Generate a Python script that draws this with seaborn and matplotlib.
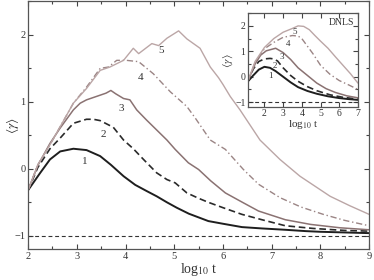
import numpy as np
import pandas as pd
import matplotlib
matplotlib.use("Agg")
import matplotlib.pyplot as plt
import seaborn as sns
from matplotlib.ticker import MultipleLocator

# ---- main panel data (log10 t, <gamma>) ----
x1 = [2.0, 2.25, 2.45, 2.66, 2.93, 3.2, 3.48, 3.7, 3.96, 4.2, 4.43, 4.64, 4.85, 5.05, 5.3, 5.7, 6.0, 6.39, 6.8, 7.28, 7.7, 8.0, 8.5, 9.0]
y1 = [-0.32, -0.06, 0.14, 0.26, 0.30, 0.28, 0.19, 0.06, -0.11, -0.24, -0.33, -0.41, -0.50, -0.58, -0.67, -0.78, -0.82, -0.87, -0.89, -0.91, -0.93, -0.94, -0.95, -0.96]

x2 = [2.0, 2.2, 2.45, 2.66, 2.93, 3.2, 3.34, 3.48, 3.75, 3.96, 4.16, 4.37, 4.64, 4.85, 5.02, 5.26, 5.5, 5.7, 6.0, 6.39, 6.8, 7.28, 7.85, 8.5, 9.0]
y2 = [-0.32, 0.02, 0.30, 0.46, 0.68, 0.74, 0.74, 0.72, 0.62, 0.43, 0.30, 0.14, -0.06, -0.16, -0.21, -0.36, -0.44, -0.50, -0.58, -0.68, -0.76, -0.85, -0.89, -0.92, -0.93]

x3 = [2.0, 2.2, 2.45, 2.66, 2.93, 3.07, 3.2, 3.48, 3.6, 3.7, 3.8, 3.96, 4.09, 4.23, 4.43, 4.64, 4.85, 5.02, 5.29, 5.5, 5.75, 6.05, 6.4, 6.73, 7.28, 7.8, 8.4, 9.0]
y3 = [-0.32, 0.05, 0.38, 0.61, 0.88, 0.98, 1.03, 1.10, 1.13, 1.17, 1.12, 1.05, 1.03, 0.88, 0.73, 0.58, 0.43, 0.29, 0.09, -0.01, -0.18, -0.36, -0.50, -0.63, -0.76, -0.83, -0.88, -0.91]

x4 = [2.0, 2.2, 2.45, 2.66, 2.93, 3.2, 3.48, 3.65, 3.82, 4.02, 4.27, 4.57, 4.92, 5.26, 5.43, 5.74, 6.05, 6.42, 6.73, 7.17, 7.6, 8.06, 8.5, 9.0]
y4 = [-0.32, 0.06, 0.36, 0.63, 0.98, 1.22, 1.50, 1.52, 1.62, 1.62, 1.60, 1.42, 1.15, 0.93, 0.76, 0.43, 0.29, -0.01, -0.23, -0.43, -0.57, -0.68, -0.77, -0.85]

x5 = [2.0, 2.2, 2.45, 2.66, 2.93, 3.2, 3.48, 3.68, 3.96, 4.16, 4.27, 4.54, 4.68, 4.85, 5.09, 5.26, 5.53, 5.74, 5.91, 6.0, 6.15, 6.35, 6.76, 7.17, 7.58, 8.2, 8.6, 9.0]
y5 = [-0.32, 0.06, 0.36, 0.63, 0.98, 1.20, 1.47, 1.52, 1.62, 1.80, 1.72, 1.87, 1.84, 1.95, 2.06, 1.94, 1.80, 1.52, 1.36, 1.26, 1.08, 0.88, 0.43, 0.14, -0.11, -0.41, -0.55, -0.68]

# ---- inset (DNLS) data ----
ix1 = [1.1, 1.4, 1.7, 2.0, 2.3, 2.6, 3.0, 3.4, 3.8, 4.3, 4.8, 5.4, 6.0, 6.5, 7.0]
iy1 = [-0.2, 0.05, 0.28, 0.39, 0.35, 0.22, 0.0, -0.22, -0.41, -0.56, -0.67, -0.77, -0.84, -0.88, -0.91]
ix2 = [1.1, 1.4, 1.7, 2.0, 2.3, 2.5, 2.7, 3.0, 3.4, 3.8, 4.3, 4.8, 5.5, 6.2, 7.0]
iy2 = [-0.2, 0.3, 0.6, 0.7, 0.72, 0.7, 0.62, 0.35, 0.05, -0.18, -0.39, -0.55, -0.71, -0.81, -0.88]
ix3 = [1.1, 1.5, 1.8, 2.1, 2.6, 3.0, 3.4, 3.8, 4.3, 4.8, 5.3, 5.8, 6.4, 7.0]
iy3 = [-0.2, 0.5, 0.85, 1.02, 1.12, 0.95, 0.68, 0.35, 0.05, -0.25, -0.47, -0.62, -0.75, -0.83]
ix4 = [1.1, 1.5, 2.0, 2.5, 3.0, 3.5, 3.8, 4.0, 4.3, 4.6, 5.0, 5.5, 6.0, 6.5, 7.0]
iy4 = [-0.2, 0.55, 1.1, 1.35, 1.55, 1.62, 1.6, 1.5, 1.2, 0.9, 0.45, 0.1, -0.15, -0.32, -0.5]
ix5 = [1.1, 1.5, 2.0, 2.5, 3.0, 3.5, 3.8, 4.1, 4.4, 4.7, 5.0, 5.4, 5.8, 6.2, 6.6, 7.0]
iy5 = [-0.2, 0.6, 1.15, 1.5, 1.75, 1.9, 2.0, 1.98, 1.85, 1.62, 1.4, 1.12, 0.78, 0.45, 0.12, -0.25]

curve_labels = ["1", "2", "3", "4", "5"]
main_label_pos = [(3.17, 0.11), (3.55, 0.52), (3.92, 0.90), (4.31, 1.36), (4.73, 1.76)]
inset_label_pos = [(2.3, 0.04), (2.57, 0.42), (2.93, 0.78), (3.28, 1.3), (3.64, 1.75)]

colors = ["#1e1e1e", "#2a2a2a", "#8a7272", "#9b8585", "#bba6a6"]
widths = [1.4, 1.2, 1.1, 1.0, 1.0]
styles = ["-", (0, (4, 2.2)), "-", (0, (4.5, 2, 1, 2)), "-"]

sns.set_style("ticks")
plt.rcParams["font.family"] = ["Liberation Serif", "DejaVu Serif"]
plt.rcParams["mathtext.fontset"] = "stix"

fig = plt.figure(figsize=(3.74, 2.8), dpi=100)
ax = fig.add_axes([0.075, 0.11, 0.912, 0.885])
ins = fig.add_axes([0.662, 0.617, 0.295, 0.336])


def draw(a, xs, ys):
    for i, (x, y) in enumerate(zip(xs, ys)):
        df = pd.DataFrame({"x": x, "y": y})
        sns.lineplot(data=df, x="x", y="y", ax=a, color=colors[i], lw=widths[i],
                     linestyle=styles[i], estimator=None, sort=False)
    a.axhline(-1, color="#333333", lw=0.8, ls=(0, (3.5, 2.5)))


draw(ax, [x1, x2, x3, x4, x5], [y1, y2, y3, y4, y5])
draw(ins, [ix1, ix2, ix3, ix4, ix5], [iy1, iy2, iy3, iy4, iy5])

for lab, (px, py) in zip(curve_labels, main_label_pos):
    ax.text(px, py, lab, fontsize=8, color="#333333", ha="center", va="center")
for lab, (px, py) in zip(curve_labels, inset_label_pos):
    ins.text(px, py, lab, fontsize=6.5, color="#333333", ha="center", va="center")
ins.text(0.97, 0.9, "DNLS", transform=ins.transAxes, fontsize=7, ha="right", va="center", color="#333333")

for a, xl, xmin in [(ax, (2, 9), 0.5), (ins, (1.1, 7), None)]:
    a.set_xlim(*xl)
    a.set_ylim(-1.2, 2.5)
    a.xaxis.set_major_locator(MultipleLocator(1))
    if xmin:
        a.xaxis.set_minor_locator(MultipleLocator(xmin))
    a.yaxis.set_major_locator(MultipleLocator(1))
    a.yaxis.set_minor_locator(MultipleLocator(0.5))
    a.tick_params(which="both", direction="in", top=True, right=True, colors="#444444",
                  labelcolor="#333333", width=0.8)
    a.tick_params(which="major", length=3.5)
    a.tick_params(which="minor", length=2.5)
    for s in a.spines.values():
        s.set_color("#555555")
        s.set_linewidth(0.9)

ax.tick_params(labelsize=7.5, pad=2)
ins.tick_params(labelsize=7, pad=1.5)
ax.set_xlabel(r"log$_{10}$ t", fontsize=10, labelpad=0, color="#333333")
ax.set_ylabel(r"$\langle\gamma\rangle$", fontsize=9.5, color="#333333")
ax.yaxis.set_label_coords(-0.022, 0.5)
ins.set_xlabel(r"log$_{10}$ t", fontsize=8, labelpad=0, color="#333333")
ins.set_ylabel(r"$\langle\gamma\rangle$", fontsize=8, labelpad=0, color="#333333")

fig.savefig("out.png", dpi=100)
